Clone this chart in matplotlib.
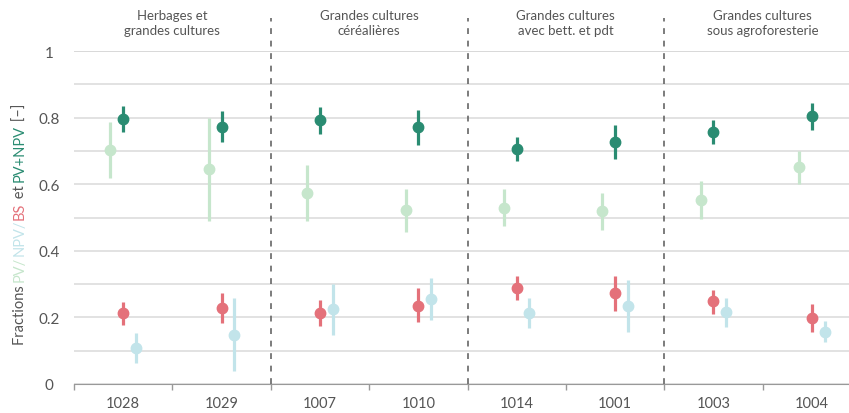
import numpy as np
import matplotlib
matplotlib.use('Agg')
import matplotlib.pyplot as plt
from matplotlib.font_manager import FontProperties

plt.rcParams['font.family'] = ['Lato', 'DejaVu Sans']

# plots, grouped two by two
plots = ['1028', '1029', '1007', '1010', '1014', '1001', '1003', '1004']
groups = ['Herbages et\ngrandes cultures', 'Grandes cultures\ncéréalières',
          'Grandes cultures\navec bett. et pdt', 'Grandes cultures\nsous agroforesterie']

# fractions: mean, lower bound, upper bound
pv = [0.703, 0.646, 0.575, 0.522, 0.530, 0.519, 0.553, 0.653]
pv_lo = [0.619, 0.490, 0.490, 0.455, 0.475, 0.463, 0.495, 0.600]
pv_hi = [0.786, 0.800, 0.659, 0.585, 0.585, 0.575, 0.609, 0.700]

npv = [0.108, 0.148, 0.225, 0.254, 0.212, 0.235, 0.215, 0.157]
npv_lo = [0.063, 0.038, 0.147, 0.191, 0.168, 0.157, 0.172, 0.125]
npv_hi = [0.152, 0.257, 0.300, 0.317, 0.257, 0.312, 0.257, 0.188]

bs = [0.212, 0.228, 0.213, 0.235, 0.287, 0.273, 0.248, 0.198]
bs_lo = [0.177, 0.182, 0.173, 0.185, 0.253, 0.220, 0.210, 0.157]
bs_hi = [0.245, 0.273, 0.253, 0.287, 0.323, 0.325, 0.283, 0.239]

pvnpv = [0.796, 0.773, 0.793, 0.772, 0.706, 0.726, 0.757, 0.804]
pvnpv_lo = [0.756, 0.726, 0.751, 0.719, 0.669, 0.676, 0.720, 0.763]
pvnpv_hi = [0.836, 0.820, 0.833, 0.823, 0.743, 0.778, 0.794, 0.845]

c_pv = '#c6e6cc'
c_npv = '#c2e4ea'
c_bs = '#e4717a'
c_tot = '#2a8c72'
c_txt = '#555555'

fig = plt.figure(figsize=(8.49, 4.14), dpi=100)
ax = fig.add_axes([74 / 849, 29 / 414, 787 / 849, 333 / 414])

x = np.arange(len(plots)) + 0.5
off = 0.13

def errdots(xs, m, lo, hi, color):
    m = np.array(m)
    yerr = [m - np.array(lo), np.array(hi) - m]
    ax.errorbar(xs, m, yerr=yerr, fmt='o', color=color, ms=7.5, elinewidth=2.3,
                capsize=0, zorder=3)

errdots(x - off, pv, pv_lo, pv_hi, c_pv)
errdots(x + off, npv, npv_lo, npv_hi, c_npv)
errdots(x, bs, bs_lo, bs_hi, c_bs)
errdots(x, pvnpv, pvnpv_lo, pvnpv_hi, c_tot)

ax.set_xlim(0, 8)
ax.set_ylim(0, 1)
ax.set_yticks([0, 0.2, 0.4, 0.6, 0.8, 1])
ax.set_yticklabels(['0', '0.2', '0.4', '0.6', '0.8', '1'])
ax.set_yticks(np.arange(0.1, 1, 0.2), minor=True)
ax.grid(axis='y', which='both', color='#dddddd', lw=1.2, zorder=0)
ax.tick_params(axis='y', which='both', length=0, pad=18, labelsize=11, labelcolor=c_txt)
for t in ax.get_yticklabels():
    t.set_ha('center')

ax.set_xticks(x)
ax.set_xticklabels(plots)
ax.set_xticks(np.arange(0, 9), minor=True)
ax.tick_params(axis='x', which='major', length=0, pad=9, labelsize=10.5, labelcolor=c_txt)
ax.tick_params(axis='x', which='minor', length=4, width=1, color='#999999')

for s in ['top', 'right', 'left']:
    ax.spines[s].set_visible(False)
ax.spines['bottom'].set_color('#999999')
ax.axhline(1, color='#bbbbbb', lw=1.2, zorder=1)

# group separators and titles
for b in [2, 4, 6]:
    ax.plot([b, b], [0, 1.1], ls=(0, (3.5, 4)), color='#666666', lw=1.2,
            clip_on=False, zorder=2)
for i, g in enumerate(groups):
    ax.text(2 * i + 1, 1.085, g, ha='center', va='center', fontsize=9.5,
            color=c_txt, linespacing=1.25, transform=ax.get_xaxis_transform())

# multicoloured y label, each piece placed at the advance of the text before it
parts = [('Fractions ', c_txt), ('PV/', c_pv), ('NPV/', c_npv), ('BS', c_bs),
         (' et ', c_txt), ('PV+NPV', c_tot), (' [–]', c_txt)]
fs = 10.5
fig.canvas.draw()
r = fig.canvas.get_renderer()
prop = FontProperties(family=['Lato', 'DejaVu Sans'], size=fs)

def advance(s):
    w1 = r.get_text_width_height_descent(s + 'x', prop, ismath=False)[0]
    w2 = r.get_text_width_height_descent('x', prop, ismath=False)[0]
    return w1 - w2

y0 = 414 - 345
prefix = ''
for s, c in parts:
    fig.text(24 / 849, (y0 + advance(prefix) if prefix else y0) / 414, s, color=c,
             fontsize=fs, rotation=90, rotation_mode='anchor', ha='left', va='baseline')
    prefix += s

fig.savefig('out.png', dpi=100)
